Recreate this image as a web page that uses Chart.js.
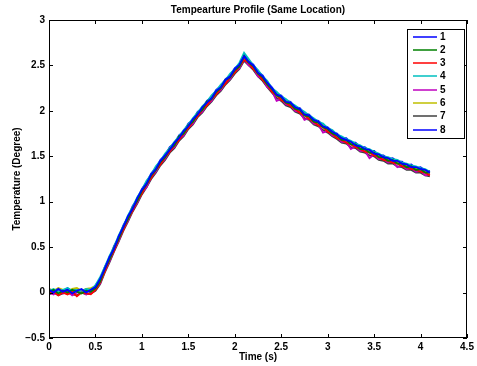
<!DOCTYPE html>
<html>
<head>
<meta charset="utf-8">
<script src="https://cdn.jsdelivr.net/npm/chart.js@4"></script>
<style>
  html, body { margin: 0; padding: 0; background: #fff; }
  #wrap { width: 477px; height: 366px; }
</style>
</head>
<body>
<div id="wrap"><canvas id="tempChart" width="477" height="366"></canvas></div>
<script>
// time axis (s)
const time = [0, 0.05, 0.1, 0.15, 0.2, 0.25, 0.3, 0.35, 0.4, 0.45,
  0.5, 0.55, 0.6, 0.65, 0.7, 0.75, 0.8, 0.85, 0.9, 0.95,
  1, 1.05, 1.1, 1.15, 1.2, 1.25, 1.3, 1.35, 1.4, 1.45,
  1.5, 1.55, 1.6, 1.65, 1.7, 1.75, 1.8, 1.85, 1.9, 1.95,
  2, 2.05, 2.1, 2.15, 2.2, 2.25, 2.3, 2.35, 2.4, 2.45,
  2.5, 2.55, 2.6, 2.65, 2.7, 2.75, 2.8, 2.85, 2.9, 2.95,
  3, 3.05, 3.1, 3.15, 3.2, 3.25, 3.3, 3.35, 3.4, 3.45,
  3.5, 3.55, 3.6, 3.65, 3.7, 3.75, 3.8, 3.85, 3.9, 3.95,
  4, 4.05, 4.1];

const labels = ['1', '2', '3', '4', '5', '6', '7', '8'];
const colors = ['#0000ff', '#008000', '#ff0000', '#00bfbf', '#bf00bf', '#bfbf00', '#404040', '#0000ff'];

const s1 = [0.03, 0.00, 0.04, 0.01, 0.03, -0.01, 0.02, 0.04, 0.00, 0.03,
  0.06, 0.15, 0.26, 0.39, 0.48, 0.62, 0.72, 0.84, 0.92, 1.04,
  1.13, 1.20, 1.30, 1.36, 1.45, 1.51, 1.57, 1.65, 1.70, 1.78,
  1.83, 1.91, 1.96, 2.04, 2.09, 2.14, 2.22, 2.26, 2.34, 2.38,
  2.46, 2.51, 2.60, 2.54, 2.50, 2.42, 2.38, 2.31, 2.25, 2.18,
  2.16, 2.10, 2.09, 2.04, 2.02, 1.96, 1.95, 1.90, 1.88, 1.83,
  1.81, 1.77, 1.74, 1.70, 1.68, 1.66, 1.62, 1.61, 1.58, 1.57,
  1.53, 1.52, 1.49, 1.48, 1.45, 1.45, 1.42, 1.41, 1.38, 1.38,
  1.36, 1.35, 1.32];
const s2 = [0.01, 0.03, -0.01, 0.02, 0.00, 0.03, 0.01, -0.01, 0.02, 0.01,
  0.05, 0.12, 0.26, 0.36, 0.49, 0.59, 0.72, 0.81, 0.93, 1.01,
  1.12, 1.19, 1.29, 1.35, 1.44, 1.49, 1.58, 1.62, 1.72, 1.75,
  1.84, 1.88, 1.97, 2.01, 2.10, 2.13, 2.21, 2.25, 2.34, 2.37,
  2.45, 2.49, 2.60, 2.53, 2.49, 2.41, 2.37, 2.29, 2.24, 2.17,
  2.15, 2.09, 2.08, 2.02, 2.01, 1.95, 1.94, 1.88, 1.87, 1.82,
  1.80, 1.75, 1.73, 1.68, 1.68, 1.63, 1.63, 1.58, 1.58, 1.54,
  1.54, 1.49, 1.49, 1.45, 1.46, 1.42, 1.42, 1.38, 1.39, 1.35,
  1.36, 1.32, 1.32];
const s3 = [-0.01, 0.01, -0.03, 0.00, -0.02, 0.01, -0.04, 0.00, -0.01, -0.02,
  0.03, 0.11, 0.23, 0.36, 0.46, 0.59, 0.69, 0.81, 0.90, 1.01,
  1.09, 1.19, 1.26, 1.35, 1.41, 1.49, 1.55, 1.62, 1.68, 1.75,
  1.81, 1.88, 1.94, 2.01, 2.06, 2.13, 2.18, 2.25, 2.30, 2.37,
  2.42, 2.49, 2.56, 2.53, 2.46, 2.41, 2.34, 2.29, 2.21, 2.17,
  2.12, 2.09, 2.05, 2.02, 1.98, 1.95, 1.91, 1.88, 1.84, 1.82,
  1.77, 1.75, 1.70, 1.68, 1.65, 1.63, 1.60, 1.58, 1.55, 1.54,
  1.51, 1.49, 1.46, 1.45, 1.43, 1.42, 1.39, 1.38, 1.36, 1.35,
  1.33, 1.32, 1.29];
const s4 = [0.02, 0.04, 0.01, 0.03, 0.05, 0.02, 0.03, 0.01, 0.04, 0.03,
  0.08, 0.17, 0.28, 0.40, 0.50, 0.63, 0.73, 0.85, 0.94, 1.05,
  1.13, 1.23, 1.30, 1.39, 1.45, 1.53, 1.59, 1.66, 1.72, 1.79,
  1.85, 1.92, 1.98, 2.05, 2.10, 2.17, 2.22, 2.29, 2.34, 2.41,
  2.46, 2.53, 2.64, 2.57, 2.50, 2.45, 2.38, 2.33, 2.25, 2.21,
  2.16, 2.13, 2.09, 2.06, 2.02, 1.99, 1.95, 1.92, 1.88, 1.86,
  1.81, 1.79, 1.74, 1.72, 1.69, 1.67, 1.64, 1.62, 1.59, 1.58,
  1.55, 1.53, 1.50, 1.49, 1.47, 1.46, 1.43, 1.42, 1.40, 1.39,
  1.37, 1.36, 1.33];
const s5 = [0.00, -0.02, 0.02, -0.01, 0.01, -0.03, 0.00, 0.02, -0.02, 0.00,
  0.04, 0.10, 0.24, 0.34, 0.47, 0.57, 0.70, 0.79, 0.91, 0.99,
  1.10, 1.16, 1.27, 1.33, 1.42, 1.47, 1.56, 1.60, 1.69, 1.73,
  1.82, 1.86, 1.95, 1.99, 2.07, 2.11, 2.19, 2.23, 2.31, 2.35,
  2.43, 2.47, 2.57, 2.50, 2.47, 2.38, 2.35, 2.26, 2.22, 2.11,
  2.13, 2.07, 2.06, 2.00, 1.99, 1.90, 1.92, 1.86, 1.85, 1.76,
  1.78, 1.73, 1.71, 1.66, 1.66, 1.58, 1.61, 1.56, 1.56, 1.48,
  1.52, 1.47, 1.47, 1.43, 1.44, 1.38, 1.40, 1.36, 1.37, 1.33,
  1.34, 1.29, 1.30];
const s6 = [0.04, 0.02, 0.05, 0.03, 0.01, 0.04, 0.05, 0.02, 0.04, 0.05,
  0.07, 0.14, 0.25, 0.38, 0.48, 0.61, 0.71, 0.83, 0.92, 1.03,
  1.11, 1.21, 1.28, 1.37, 1.43, 1.51, 1.57, 1.64, 1.70, 1.77,
  1.83, 1.90, 1.96, 2.03, 2.08, 2.15, 2.20, 2.27, 2.32, 2.39,
  2.44, 2.51, 2.58, 2.55, 2.48, 2.43, 2.36, 2.31, 2.23, 2.19,
  2.14, 2.11, 2.07, 2.04, 2.00, 1.97, 1.93, 1.90, 1.86, 1.84,
  1.79, 1.77, 1.72, 1.70, 1.67, 1.65, 1.62, 1.60, 1.57, 1.56,
  1.53, 1.51, 1.48, 1.47, 1.45, 1.44, 1.41, 1.40, 1.38, 1.37,
  1.35, 1.34, 1.31];
const s7 = [-0.02, 0.00, -0.03, -0.01, 0.00, -0.02, -0.03, 0.00, -0.02, -0.01,
  0.02, 0.09, 0.22, 0.33, 0.45, 0.56, 0.68, 0.78, 0.89, 0.98,
  1.08, 1.16, 1.25, 1.32, 1.40, 1.46, 1.54, 1.59, 1.67, 1.72,
  1.80, 1.85, 1.93, 1.98, 2.05, 2.10, 2.17, 2.22, 2.29, 2.34,
  2.41, 2.46, 2.55, 2.50, 2.45, 2.38, 2.33, 2.26, 2.20, 2.14,
  2.11, 2.06, 2.04, 1.99, 1.97, 1.92, 1.90, 1.85, 1.83, 1.79,
  1.76, 1.72, 1.69, 1.65, 1.64, 1.60, 1.59, 1.55, 1.54, 1.51,
  1.50, 1.46, 1.45, 1.42, 1.42, 1.39, 1.38, 1.35, 1.35, 1.32,
  1.32, 1.29, 1.28];
const s8 = [0.04, 0.01, 0.04, 0.01, 0.05, 0.01, 0.04, 0.01, 0.04, 0.02,
  0.08, 0.14, 0.28, 0.38, 0.51, 0.61, 0.74, 0.83, 0.95, 1.03,
  1.14, 1.21, 1.31, 1.37, 1.46, 1.51, 1.60, 1.64, 1.73, 1.77,
  1.86, 1.90, 1.99, 2.03, 2.11, 2.15, 2.23, 2.27, 2.35, 2.39,
  2.47, 2.51, 2.62, 2.55, 2.51, 2.43, 2.39, 2.31, 2.26, 2.19,
  2.17, 2.11, 2.10, 2.04, 2.03, 1.97, 1.96, 1.90, 1.89, 1.84,
  1.82, 1.77, 1.75, 1.70, 1.70, 1.65, 1.65, 1.60, 1.60, 1.56,
  1.56, 1.51, 1.51, 1.47, 1.48, 1.44, 1.44, 1.40, 1.41, 1.37,
  1.38, 1.34, 1.34];

const series = [s1, s2, s3, s4, s5, s6, s7, s8];

const xTicks = [0, 0.5, 1, 1.5, 2, 2.5, 3, 3.5, 4, 4.5];
const yTicks = [-0.5, 0, 0.5, 1, 1.5, 2, 2.5, 3];

const FONT = '"Liberation Sans", Arial, Helvetica, sans-serif';

// MATLAB-like box, inward ticks, titles and legend
const matlabFrame = {
  id: 'matlabFrame',
  afterDraw(chart) {
    const { ctx, chartArea: a, scales: { x, y } } = chart;
    ctx.save();
    ctx.strokeStyle = '#000';
    ctx.lineWidth = 1;
    ctx.strokeRect(a.left + 0.5, a.top + 0.5, a.right - a.left - 1, a.bottom - a.top - 1);

    ctx.beginPath();
    xTicks.forEach(v => {
      const px = Math.round(x.getPixelForValue(v)) + 0.5;
      ctx.moveTo(px, a.bottom); ctx.lineTo(px, a.bottom - 4);
      ctx.moveTo(px, a.top); ctx.lineTo(px, a.top + 4);
    });
    yTicks.forEach(v => {
      const py = Math.round(y.getPixelForValue(v)) + 0.5;
      ctx.moveTo(a.left, py); ctx.lineTo(a.left + 4, py);
      ctx.moveTo(a.right, py); ctx.lineTo(a.right - 4, py);
    });
    ctx.stroke();

    // titles
    ctx.fillStyle = '#000';
    ctx.font = 'bold 10px ' + FONT;
    ctx.textAlign = 'center';
    ctx.textBaseline = 'middle';
    const cx = (a.left + a.right) / 2;
    ctx.fillText('Tempearture Profile (Same Location)', cx, 10);
    ctx.fillText('Time (s)', cx, 357);
    ctx.save();
    ctx.translate(17, (a.top + a.bottom) / 2);
    ctx.rotate(-Math.PI / 2);
    ctx.fillText('Temperature (Degree)', 0, 0);
    ctx.restore();

    // legend box
    const lx = 407, ly = 29, lw = 57, lh = 109;
    ctx.fillStyle = '#fff';
    ctx.fillRect(lx, ly, lw, lh);
    ctx.strokeStyle = '#000';
    ctx.lineWidth = 1;
    ctx.strokeRect(lx + 0.5, ly + 0.5, lw, lh);
    ctx.textAlign = 'left';
    labels.forEach((lab, i) => {
      const yy = Math.round(36.5 + i * 13.3);
      ctx.strokeStyle = colors[i];
      ctx.lineWidth = 1.5;
      ctx.beginPath();
      ctx.moveTo(413, yy);
      ctx.lineTo(437, yy);
      ctx.stroke();
      ctx.fillStyle = '#000';
      ctx.fillText(lab, 440, yy + 0.5);
    });
    ctx.restore();
  }
};

const ctx = document.getElementById('tempChart').getContext('2d');

const chart = new Chart(ctx, {
  type: 'line',
  data: {
    datasets: series.map((s, i) => ({
      label: labels[i],
      data: s.map((v, j) => ({ x: time[j], y: v })),
      borderColor: colors[i],
      borderWidth: 1.8,
      pointRadius: 0,
      fill: false,
      tension: 0
    }))
  },
  options: {
    responsive: false,
    animation: false,
    layout: { padding: { left: 0, right: 10, top: 20, bottom: 0 } },
    plugins: {
      legend: { display: false },
      title: { display: false },
      tooltip: { enabled: false }
    },
    scales: {
      x: {
        type: 'linear',
        min: 0,
        max: 4.5,
        afterFit: s => { s.height = 28; },
        afterBuildTicks: s => { s.ticks = xTicks.map(v => ({ value: v })); },
        grid: { display: false, drawTicks: false },
        border: { display: false },
        ticks: {
          padding: 3,
          color: '#000',
          font: { family: FONT, size: 10, weight: 'bold' },
          maxRotation: 0,
          callback: v => String(v)
        }
      },
      y: {
        min: -0.5,
        max: 3,
        afterFit: s => { s.width = 49; },
        afterBuildTicks: s => { s.ticks = yTicks.map(v => ({ value: v })); },
        grid: { display: false, drawTicks: false },
        border: { display: false },
        ticks: {
          padding: 4,
          color: '#000',
          font: { family: FONT, size: 10, weight: 'bold' },
          callback: v => (v < 0 ? '\u2212' + String(-v) : String(v))
        }
      }
    }
  },
  plugins: [matlabFrame]
});
</script>
</body>
</html>
